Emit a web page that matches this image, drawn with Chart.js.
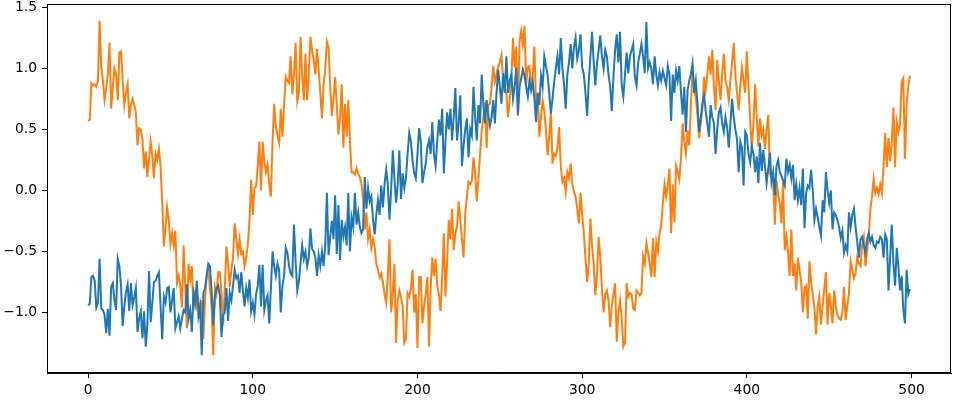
<!DOCTYPE html>
<html><head><meta charset="utf-8">
<script src="https://cdn.jsdelivr.net/npm/chart.js@4"></script>
<style>html,body{margin:0;padding:0;background:#fff;}canvas{display:block;}</style>
</head><body>
<div style="width:955px;height:400px"><canvas id="c" width="955" height="400"></canvas></div>
<script>
// Blue series (values for x = 0..499)
const seriesBlue = [
-0.94,-0.93,-0.71,-0.70,-0.74,-0.96,-0.92,-0.56,-0.97,-0.98,
-1.02,-1.17,-0.97,-1.19,-0.79,-0.76,-0.90,-0.98,-0.56,-0.62,
-0.78,-1.11,-0.95,-0.83,-0.77,-0.99,-0.76,-0.94,-0.88,-0.80,
-1.16,-1.05,-0.99,-1.21,-0.99,-1.28,-1.10,-0.66,-1.08,-0.92,
-0.75,-0.74,-0.70,-0.67,-0.95,-1.22,-0.87,-0.92,-0.80,-0.79,
-1.00,-0.90,-0.80,-1.13,-1.08,-1.03,-1.13,-1.05,-0.98,-1.00,
-0.77,-1.05,-0.98,-1.16,-0.84,-0.92,-0.74,-1.03,-0.95,-1.35,
-0.84,-0.80,-0.70,-0.60,-0.62,-0.82,-1.10,-0.87,-0.80,-0.78,
-0.86,-1.20,-1.02,-1.00,-0.80,-1.07,-0.84,-0.90,-0.78,-0.65,
-0.72,-0.70,-0.84,-0.67,-0.82,-0.95,-0.80,-0.88,-0.73,-0.99,
-0.92,-1.02,-0.85,-0.78,-0.61,-0.95,-0.61,-0.98,-0.90,-0.86,
-1.09,-0.80,-0.50,-0.62,-0.70,-0.60,-0.65,-1.00,-0.78,-0.70,
-0.47,-0.51,-0.62,-0.68,-0.70,-0.28,-0.58,-0.82,-0.74,-0.60,
-0.45,-0.56,-0.50,-0.62,-0.55,-0.31,-0.48,-0.50,-0.55,-0.70,
-0.53,-0.62,-0.50,-0.62,-0.45,-0.02,-0.53,-0.38,-0.25,-0.40,
-0.04,-0.52,-0.12,-0.57,-0.24,-0.38,-0.30,-0.45,-0.02,-0.50,
-0.22,-0.30,-0.02,-0.28,-0.18,-0.30,-0.35,-0.32,0.11,-0.15,
0.02,-0.09,-0.05,-0.24,-0.36,-0.20,-0.08,-0.20,0.04,-0.14,
0.05,0.17,0.05,-0.24,0.00,0.33,0.10,-0.10,0.05,0.33,
-0.07,0.14,0.02,0.10,0.30,0.47,0.40,0.25,0.14,0.10,
0.30,0.51,0.40,0.06,0.15,0.22,0.35,0.41,0.30,0.56,
0.30,0.20,0.40,0.58,0.45,0.67,0.14,0.40,0.64,0.50,
0.67,0.41,0.60,0.84,0.41,0.55,0.78,0.20,0.37,0.50,
0.59,0.27,0.50,0.45,0.85,0.60,0.41,0.70,0.55,0.95,
0.70,0.55,0.74,0.62,0.53,0.60,0.74,0.55,0.80,0.99,
0.85,0.71,0.96,0.80,1.10,0.80,0.90,0.95,0.75,0.85,
1.01,0.62,0.85,0.92,0.99,0.94,0.85,0.77,0.90,0.82,
0.89,0.75,0.56,0.80,0.70,0.94,0.85,1.10,1.02,0.95,
0.80,0.63,0.75,0.89,1.00,1.10,0.95,1.25,1.00,0.87,
0.67,0.95,1.05,1.20,1.00,1.17,1.25,1.08,1.15,1.28,
1.01,0.95,0.80,0.61,0.89,1.10,1.30,1.05,0.86,1.04,
1.15,1.27,1.10,1.00,1.15,1.10,0.95,0.85,0.65,0.94,
1.15,1.28,1.05,1.30,0.86,0.77,0.95,1.13,0.96,1.10,
1.15,1.20,0.93,0.86,1.05,1.12,1.20,1.10,0.96,1.38,
1.00,1.05,1.00,0.87,1.10,0.95,0.86,0.97,0.90,0.98,
0.92,0.86,1.02,0.95,0.57,0.95,0.80,0.98,0.90,1.02,
0.80,0.62,0.85,0.48,0.82,0.90,0.95,1.04,0.80,0.90,
0.71,0.48,0.60,0.71,0.78,0.65,0.55,0.44,0.70,0.60,
0.55,0.30,0.50,0.64,0.68,0.55,0.48,0.60,0.52,0.35,
0.55,0.75,0.60,0.50,0.42,0.15,0.40,0.35,0.04,0.48,
0.45,0.30,0.23,0.36,0.30,0.15,0.28,0.06,0.39,0.16,
0.33,0.20,0.06,0.18,0.31,0.07,0.15,-0.04,0.20,0.25,
0.15,0.12,0.08,0.04,0.26,0.15,0.21,0.10,0.21,-0.08,
0.05,-0.08,0.02,-0.12,0.18,-0.31,-0.02,0.04,0.02,0.17,
0.00,-0.24,-0.15,-0.22,-0.30,-0.37,-0.08,-0.18,0.15,0.00,
-0.10,0.00,-0.32,-0.18,-0.20,-0.24,-0.30,-0.39,-0.33,-0.51,
-0.45,-0.50,-0.18,-0.30,-0.20,-0.15,-0.30,-0.42,-0.55,-0.40,
-0.38,-0.45,-0.51,-0.40,-0.35,-0.42,-0.38,-0.45,-0.47,-0.42,
-0.43,-0.38,-0.40,-0.55,-0.36,-0.40,-0.82,-0.55,-0.28,-0.60,
-0.78,-0.47,-0.62,-0.82,-0.70,-0.98,-1.09,-0.65,-0.85,-0.81
];
// Orange series (values for x = 0..499)
const seriesOrange = [
0.57,0.58,0.88,0.86,0.87,0.85,0.90,1.39,1.01,0.90,
0.74,0.84,0.95,1.21,0.67,0.85,1.00,0.95,0.74,1.13,
1.14,0.90,0.70,0.80,0.87,0.59,0.70,0.75,0.70,0.64,
0.37,0.51,0.50,0.42,0.18,0.32,0.11,0.25,0.40,0.28,
0.10,0.30,0.25,0.34,0.20,-0.10,-0.46,-0.30,-0.14,-0.25,
-0.44,-0.35,-0.45,-0.33,-0.76,-0.70,-0.78,-0.96,-0.45,-0.80,
-1.13,-0.60,-0.73,-0.62,-0.98,-0.85,-0.95,-0.90,-1.05,-0.90,
-1.22,-0.90,-0.70,-0.64,-0.80,-0.95,-1.35,-0.79,-0.85,-0.67,
-0.67,-0.85,-1.10,-0.80,-0.46,-0.60,-0.79,-0.65,-0.55,-0.27,
-0.40,-0.52,-0.40,-0.52,-0.50,-0.62,-0.55,-0.44,-0.25,0.09,
-0.20,0.02,0.03,0.20,0.40,0.00,0.40,0.24,0.15,0.21,
0.05,-0.05,0.40,0.71,0.52,0.45,0.39,0.67,0.44,0.70,
0.93,0.90,0.88,1.10,0.79,0.95,1.21,0.73,0.80,1.26,
0.95,0.74,1.12,0.74,0.95,1.26,1.15,1.07,0.95,1.16,
0.99,0.80,0.59,0.87,1.00,1.22,1.17,0.85,0.61,0.75,
0.93,0.70,0.46,0.60,0.87,0.35,0.71,0.44,0.74,0.40,
0.15,0.15,0.13,0.18,0.14,0.11,0.05,-0.08,-0.32,-0.18,
-0.40,-0.32,-0.47,-0.40,-0.46,-0.60,-0.65,-0.71,-0.68,-0.75,
-0.85,-0.92,-0.70,-0.40,-1.00,-0.85,-0.60,-1.25,-0.90,-0.82,
-0.87,-0.95,-1.25,-1.22,-0.84,-0.87,-0.80,-0.65,-1.00,-0.85,
-1.29,-0.71,-0.71,-1.09,-0.95,-0.85,-0.71,-1.28,-0.80,-0.55,
-0.70,-0.56,-0.78,-0.85,-0.99,-0.70,-0.35,-0.87,-0.60,-0.24,
-0.40,-0.15,-0.49,-0.35,-0.30,-0.09,-0.25,-0.40,-0.55,-0.19,
-0.05,0.07,0.05,0.08,0.27,0.15,-0.09,0.10,0.30,0.49,
0.60,0.72,0.35,0.70,0.71,0.85,1.02,0.89,0.95,1.02,
1.05,1.11,0.91,0.85,0.79,0.60,0.74,0.90,1.25,1.01,
1.18,0.61,1.22,1.31,1.20,1.35,0.87,1.01,1.02,0.84,
0.95,1.18,0.69,0.80,0.44,0.60,0.74,0.65,0.50,0.29,
0.45,0.64,0.22,0.30,0.28,0.35,0.52,0.20,0.07,0.10,
-0.01,0.15,0.10,0.22,0.05,-0.01,-0.05,-0.15,-0.27,-0.02,
-0.20,-0.35,-0.55,-0.75,-0.60,-0.23,-0.45,-0.60,-0.86,-0.70,
-0.38,-0.55,-0.80,-1.00,-0.85,-0.82,-0.90,-1.12,-0.95,-0.85,
-0.76,-1.24,-1.00,-0.90,-1.05,-1.28,-1.25,-0.76,-0.87,-0.84,
-0.85,-0.97,-0.98,-0.82,-0.84,-0.86,-0.84,-0.54,-0.60,-0.43,
-0.51,-0.60,-0.71,-0.39,-0.71,-0.42,-0.50,-0.35,-0.29,-0.10,
0.05,-0.05,0.04,0.18,-0.35,0.05,-0.26,0.20,0.15,0.09,
0.26,0.55,0.40,0.30,0.49,0.37,0.70,0.97,0.85,0.75,
0.62,0.43,0.55,0.66,0.93,0.82,0.95,1.10,0.95,1.15,
0.85,0.66,1.07,0.90,0.74,0.95,1.12,0.90,0.85,0.74,
0.90,1.05,1.21,0.95,0.80,0.66,0.85,1.01,0.90,0.80,
1.14,0.85,0.58,0.34,0.55,0.87,0.60,0.36,0.59,0.45,
0.50,0.34,0.50,0.62,0.14,0.10,0.07,-0.28,0.08,-0.04,
-0.10,-0.27,0.07,-0.49,-0.38,-0.50,-0.70,-0.32,-0.70,-0.60,
-0.82,-0.55,-0.65,-0.75,-1.00,-0.80,-0.78,-1.05,-0.58,-0.76,
-0.85,-0.96,-1.18,-0.95,-0.87,-1.10,-0.95,-0.80,-0.67,-1.10,
-0.84,-0.95,-1.09,-0.82,-0.95,-1.02,-1.05,-1.06,-1.00,-0.79,
-1.06,-0.95,-0.84,-0.58,-0.65,-0.72,-0.68,-0.55,-0.60,-0.62,
-0.45,-0.38,-0.62,-0.50,-0.38,-0.15,-0.05,0.10,-0.02,0.02,
-0.03,0.05,-0.02,0.20,0.47,0.19,0.43,0.24,0.40,0.68,
0.19,0.56,0.48,0.55,0.89,0.92,0.26,0.71,0.85,0.94
];
const xTickValues = [0, 100, 200, 300, 400, 500];
const yTickValues = [-1.0, -0.5, 0.0, 0.5, 1.0, 1.5];

const toPoints = arr => arr.map((v, i) => ({x: i, y: v}));
const font = {family: 'DejaVu Sans', size: 13.89};

const framePlugin = {
  id: 'frame',
  afterDraw(chart) {
    const a = chart.chartArea, ctx = chart.ctx;
    ctx.save();
    ctx.strokeStyle = '#000';
    ctx.lineWidth = 1;
    ctx.strokeRect(Math.round(a.left) + 0.5, Math.round(a.top) + 0.5,
                   Math.round(a.right - a.left) - 1, Math.round(a.bottom - a.top) - 1);
    ctx.restore();
  }
};

new Chart(document.getElementById('c'), {
  type: 'line',
  data: {
    datasets: [
      {data: toPoints(seriesBlue), borderColor: '#1f77b4', borderWidth: 2, pointRadius: 0, tension: 0, fill: false},
      {data: toPoints(seriesOrange), borderColor: '#ff7f0e', borderWidth: 2, pointRadius: 0, tension: 0, fill: false}
    ]
  },
  options: {
    responsive: false,
    animation: false,
    events: [],
    layout: {padding: {top: 4, right: 4, left: 0, bottom: 0}},
    plugins: {legend: {display: false}, tooltip: {enabled: false}},
    scales: {
      x: {
        type: 'linear', min: -24.95, max: 523.95,
        afterBuildTicks: s => { s.ticks = xTickValues.map(v => ({value: v})); },
        afterFit: s => { s.height = 27; s.paddingLeft = 0; s.paddingRight = 0; },
        ticks: {color: '#000', font, padding: 4, maxRotation: 0, autoSkip: false, callback: v => String(v)},
        grid: {drawOnChartArea: false, drawTicks: true, tickLength: 5, color: '#000', lineWidth: 1},
        border: {display: true, color: '#000', width: 1}
      },
      y: {
        type: 'linear', min: -1.496, max: 1.528,
        afterBuildTicks: s => { s.ticks = yTickValues.map(v => ({value: v})); },
        afterFit: s => { s.width = 47; s.paddingTop = 0; s.paddingBottom = 0; },
        ticks: {color: '#000', font, padding: 5, autoSkip: false,
          callback: v => (v < 0 ? '\u2212' : '') + Math.abs(v).toFixed(1)},
        grid: {drawOnChartArea: false, drawTicks: true, tickLength: 5, color: '#000', lineWidth: 1},
        border: {display: true, color: '#000', width: 1}
      }
    }
  },
  plugins: [framePlugin]
});
</script>
</body></html>
